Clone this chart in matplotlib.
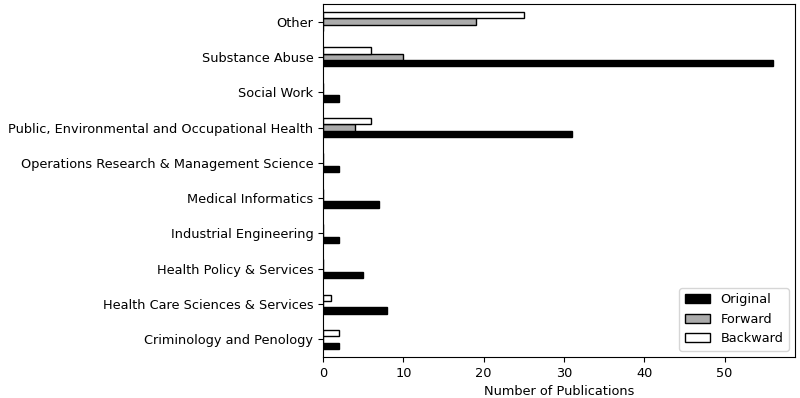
import numpy as np
import matplotlib.pyplot as plt

categories = ['Criminology and Penology', 'Health Care Sciences & Services',
              'Health Policy & Services', 'Industrial Engineering',
              'Medical Informatics', 'Operations Research & Management Science',
              'Public, Environmental and Occupational Health', 'Social Work',
              'Substance Abuse', 'Other']
original = [2, 8, 5, 2, 7, 2, 31, 2, 56, 0]
forward = [0, 0, 0, 0, 0, 0, 4, 0, 10, 19]
backward = [2, 1, 0, 0, 0, 0, 6, 0, 6, 25]

plt.rcParams['font.size'] = 9.3

fig, ax = plt.subplots(figsize=(8, 3.98), dpi=100)
y = np.arange(len(categories))
h = 0.18
ax.barh(y - h, original, h, color='black', edgecolor='black', label='Original')
ax.barh(y, forward, h, color='#ababab', edgecolor='black', label='Forward')
ax.barh(y + h, backward, h, color='white', edgecolor='black', label='Backward')

ax.set_yticks(y)
ax.set_yticklabels(categories)
ax.set_ylim(-0.5, len(categories) - 0.5)
ax.set_xlabel('Number of Publications')
ax.legend(loc='lower right')
fig.subplots_adjust(left=0.404, right=0.994, bottom=0.103, top=0.99)
plt.savefig('out.png')
